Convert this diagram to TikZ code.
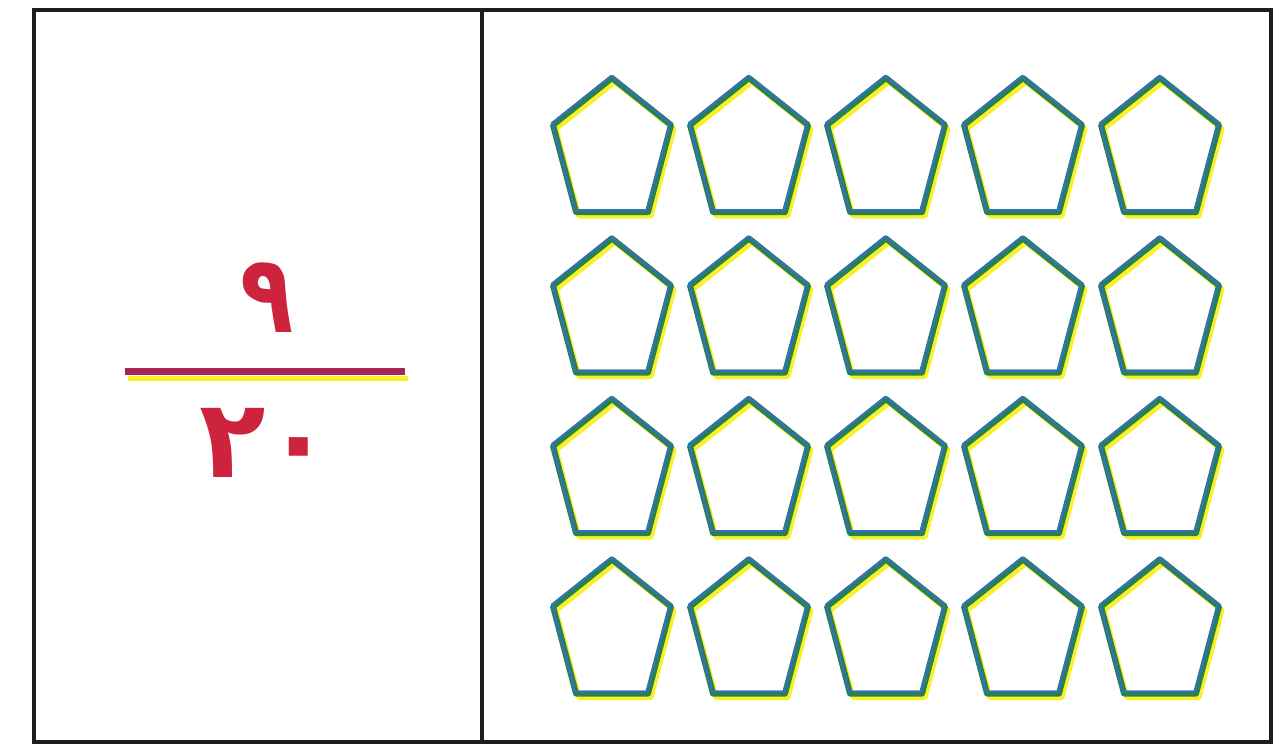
\documentclass[tikz,border=0pt]{standalone}
\usepackage{fontspec}
\usepackage{tikz}
\newfontfamily\arabicfont[Script=Arabic]{DejaVu Sans}
\definecolor{frameline}{RGB}{30,28,28}
\definecolor{digitred}{RGB}{205,35,60}
\definecolor{barred}{RGB}{165,35,85}
\definecolor{shadowyel}{RGB}{250,240,40}
\definecolor{pentgreen}{RGB}{40,130,80}
\definecolor{pentblue}{RGB}{55,110,190}

\begin{document}
\begin{tikzpicture}[
  x=0.02cm,y=-0.02cm,
  frame/.style={draw=frameline,line width=0.08cm},
  digit/.style={font=\arabicfont\bfseries\fontsize{62}{62}\selectfont,
                inner sep=0pt,text=digitred},
  pent/.pic={
    \draw[shadowyel,line width=0.1cm,line join=round]
      (3,-63) -- (62,-16) -- (39,71) -- (-33,71) -- (-56,-16) -- cycle;
    \draw[pentgreen,line width=0.12cm,line join=round]
      (0,-67) -- (59,-20) -- (36,67) -- (-36,67) -- (-59,-20) -- cycle;
    \draw[pentblue,line width=0.04cm,line join=round]
      (-1,-69) -- (58,-22) -- (35,65) -- (-37,65) -- (-60,-22) -- cycle;
  },
]
  \useasboundingbox (0,0) rectangle (1279,747);

  % frame and divider
  \draw[frame] (34,10) rectangle (1271,742);
  \draw[frame] (482,10) -- (482,742);

  % fraction
  \node[digit,xscale=0.8] (num) at (267,298) {٩};
  \draw[shadowyel,line width=0.1cm] (128,378) -- (408,378);
  \draw[barred,line width=0.14cm] (125,371) -- (405,371);
  \node[digit] (den) at (266,443) {٢٠};

  % pentagons
  \foreach \i in {0,...,4}
    \foreach \j in {0,...,3}
      \pic at ({612+137*\i},{145+160.5*\j}) {pent};
\end{tikzpicture}
\end{document}
